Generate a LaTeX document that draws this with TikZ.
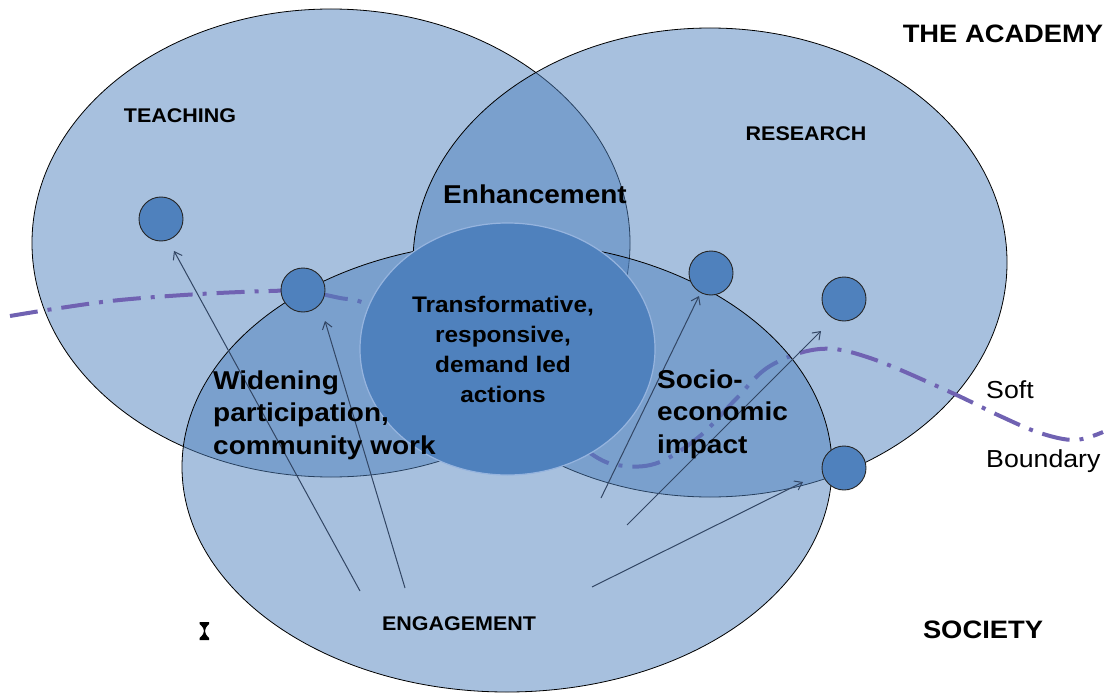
\documentclass[tikz,border=0pt]{standalone}
\usepackage{fontspec}
\setmainfont[FakeStretch=1.085]{Liberation Sans}
\usetikzlibrary{shapes.geometric,arrows.meta}
\definecolor{accent}{HTML}{4F81BD}
\definecolor{arrowc}{RGB}{50,70,100}
\definecolor{boundc}{RGB}{112,98,178}
\definecolor{coreedge}{RGB}{150,180,222}
\begin{document}
\begin{tikzpicture}[x=1pt,y=-1pt,
  bigell/.style={ellipse, draw=black, line width=0.8pt, fill=accent, fill opacity=0.5, draw opacity=1, inner sep=0pt},
  dotc/.style={circle, draw=black!85, line width=0.9pt, fill=accent, minimum size=44pt, inner sep=0pt},
  link/.style={draw=arrowc, line width=1pt, -{Straight Barb[length=7pt,width=10pt]}},
  smallcap/.style={font=\bfseries\fontsize{19.8}{22}\selectfont, inner sep=0pt, anchor=base},
  bigcap/.style={font=\bfseries\fontsize{25.2}{28}\selectfont, inner sep=0pt, anchor=base},
  region/.style={font=\bfseries\fontsize{25.8}{32.5}\selectfont, inner sep=0pt, align=left, anchor=west},
  softlbl/.style={font=\fontsize{24.6}{28}\selectfont, inner sep=0pt, anchor=base west},
  boundary/.style={draw=boundc, line width=4pt, dash pattern=on 28pt off 10pt on 4pt off 10pt}
]
\useasboundingbox (0,0) rectangle (1107,695);
% big ellipses
\node[bigell, minimum width=598pt, minimum height=468pt] (teach) at (331,243) {};
\node[bigell, minimum width=594pt, minimum height=469pt] (res) at (710,262.5) {};
% soft boundary
\draw[boundary] plot[smooth, tension=0.6] coordinates {(10,316) (60,308) (120,300) (200,294) (270,291) (303,291) (340,298) (367,304) (450,340) (540,410) (593,455) (625,466) (660,462) (700,436) (735,400) (770,366) (820,349) (870,358) (950,392) (1000,416) (1040,433) (1075,440) (1103,432)};
\node[bigell, minimum width=650pt, minimum height=450pt] (eng) at (507,467) {};
% core
\node[ellipse, fill=accent, draw=coreedge, line width=1.2pt, minimum width=295pt, minimum height=252pt, inner sep=0pt] (core) at (507.5,349) {};
% small circles
\node[dotc] (c1) at (161,219) {};
\node[dotc] (c2) at (303,290) {};
\node[dotc] (c3) at (711,273) {};
\node[dotc] (c4) at (844,299) {};
\node[dotc] (c5) at (844,468) {};
% arrows
\coordinate (a1s) at (360,591); \coordinate (a1e) at (174,251);
\coordinate (a2s) at (405,588); \coordinate (a2e) at (325,321);
\coordinate (a3s) at (601,498); \coordinate (a3e) at (699,296);
\coordinate (a4s) at (627,525); \coordinate (a4e) at (821,331);
\coordinate (a5s) at (592,587); \coordinate (a5e) at (803,482);
\draw[link] (a1s) -- (a1e);
\draw[link] (a2s) -- (a2e);
\draw[link] (a3s) -- (a3e);
\draw[link] (a4s) -- (a4e);
\draw[link] (a5s) -- (a5e);
% labels
\node[smallcap] (lteach) at (180,123) {TEACHING};
\node[smallcap] (lres) at (806,141) {RESEARCH};
\node[smallcap] (leng) at (459,630) {ENGAGEMENT};
\node[bigcap] (lacad) at (1003,43) {THE ACADEMY};
\node[bigcap] (lsoc) at (983,638) {SOCIETY};
\node[font=\bfseries\fontsize{25.8}{30}\selectfont, inner sep=0pt, anchor=base] (lenh) at (535,203) {Enhancement};
\node[font=\bfseries\fontsize{22.5}{30}\selectfont, inner sep=0pt, align=center] (lcore) at (503,349) {Transformative,\\responsive,\\demand led\\actions};
\node[region] (lwid) at (213,415) {Widening\\participation,\\community work};
\node[region] (lsocio) at (657,414) {Socio-\\economic\\impact};
\node[softlbl] (lsoft) at (986,398) {Soft};
\node[softlbl] (lbound) at (986,467) {Boundary};
% small hourglass mark
\fill (199.5,622) -- (209,622) -- (209,624) .. controls (206,627) and (205,629) .. (205,631) .. controls (205,633) and (206,635) .. (209,638) -- (209,640) -- (199.5,640) -- (199.5,638) .. controls (203,635) and (204,633) .. (204,631) .. controls (204,629) and (203,627) .. (199.5,624) -- cycle;
\end{tikzpicture}
\end{document}
